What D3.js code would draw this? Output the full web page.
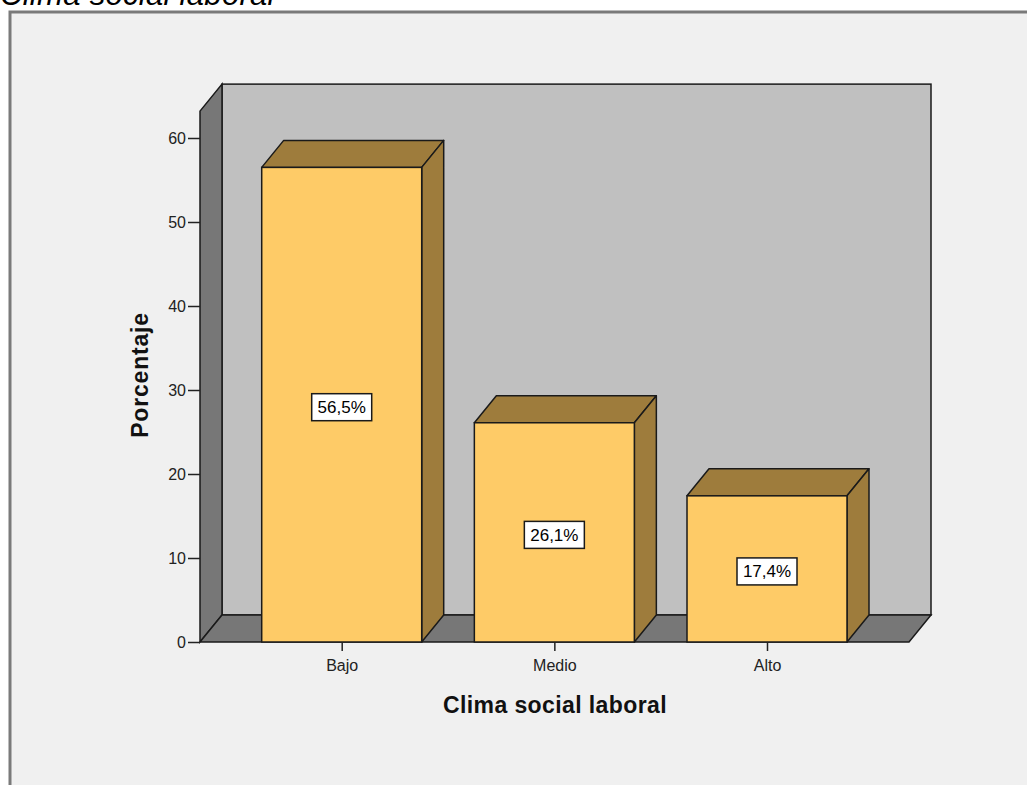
<!DOCTYPE html>
<html><head><meta charset="utf-8">
<script src="https://cdn.jsdelivr.net/npm/d3@7"></script>
<style>body{margin:0;background:#fff;}svg{display:block;font-family:Arial,"Liberation Sans",sans-serif;}</style>
</head><body>
<svg id="c" width="1027" height="785"></svg>
<script>
const categories = ["Bajo", "Medio", "Alto"];
const values = [56.5, 26.1, 17.4];
const valueLabels = ["56,5%", "26,1%", "17,4%"];
const yTicks = [0, 10, 20, 30, 40, 50, 60];

const svg = d3.select("#c");
// outer panel
svg.append("rect").attr("x", 10).attr("y", 12).attr("width", 1030).attr("height", 800)
  .attr("fill", "#f0f0f0").attr("stroke", "#7a7a7a").attr("stroke-width", 3);
svg.append("text").attr("x", 0).attr("y", 5).attr("font-style", "italic")
  .attr("font-size", 31).attr("letter-spacing", 0.3).attr("fill", "#000").text("Clima social laboral");

const y = d3.scaleLinear().domain([0, 60]).range([642, 138]);
const x = d3.scalePoint().domain(categories).range([341.7, 767]);
const dx = 22, dy = -27, bw = 160;
const yMaxFront = 63.2;
const x0 = 200, x1 = 909;

const g = svg.append("g");
const stroke = "#1a1a1a";
// back wall
g.append("rect").attr("x", x0 + dx).attr("y", y(yMaxFront) + dy).attr("width", x1 - x0)
  .attr("height", y(0) - y(yMaxFront)).attr("fill", "#c0c0c0").attr("stroke", stroke).attr("stroke-width", 1.5);
// left wall
g.append("polygon").attr("points", [[x0, y(yMaxFront)], [x0 + dx, y(yMaxFront) + dy], [x0 + dx, y(0) + dy], [x0, y(0)]].join(" "))
  .attr("fill", "#777").attr("stroke", stroke).attr("stroke-width", 1.5);
// floor
g.append("polygon").attr("points", [[x0, y(0)], [x0 + dx, y(0) + dy], [x1 + dx, y(0) + dy], [x1, y(0)]].join(" "))
  .attr("fill", "#777").attr("stroke", stroke).attr("stroke-width", 1.5);

// bars
const bars = g.selectAll("g.bar").data(categories.map((c, i) => ({c, v: values[i], l: valueLabels[i]}))).join("g");
bars.each(function(d) {
  const b = d3.select(this);
  const xl = x(d.c) - bw / 2, xr = x(d.c) + bw / 2, yt = y(d.v), yb = y(0);
  b.append("polygon").attr("points", [[xl, yt], [xl + dx, yt + dy], [xr + dx, yt + dy], [xr, yt]].join(" "))
    .attr("fill", "#9e7c3c").attr("stroke", stroke).attr("stroke-width", 1.5).attr("stroke-linejoin", "round");
  b.append("polygon").attr("points", [[xr, yt], [xr + dx, yt + dy], [xr + dx, yb + dy], [xr, yb]].join(" "))
    .attr("fill", "#9e7c3c").attr("stroke", stroke).attr("stroke-width", 1.5).attr("stroke-linejoin", "round");
  b.append("rect").attr("x", xl).attr("y", yt).attr("width", bw).attr("height", yb - yt)
    .attr("fill", "#fecb67").attr("stroke", stroke).attr("stroke-width", 1.5);
  const cy = y(d.v / 2) + 2;
  b.append("rect").attr("x", x(d.c) - 30).attr("y", cy - 13).attr("width", 60).attr("height", 27)
    .attr("fill", "#fff").attr("stroke", stroke).attr("stroke-width", 1.5);
  b.append("text").attr("x", x(d.c)).attr("y", cy + 6.5).attr("text-anchor", "middle")
    .attr("font-size", 17).attr("fill", "#000").text(d.l);
});

// y axis ticks
const yAxis = g.append("g").attr("transform", `translate(${x0},0)`)
  .call(d3.axisLeft(y).tickValues(yTicks).tickSize(12).tickPadding(2).tickFormat(d3.format("d")));
yAxis.select(".domain").remove();
yAxis.selectAll(".tick line").attr("stroke", "#222").attr("stroke-width", 1.5);
yAxis.selectAll(".tick text").attr("font-size", 16).attr("fill", "#222").attr("font-family", "Arial, 'Liberation Sans', sans-serif");

// x axis
const xAxis = g.append("g").attr("transform", `translate(0,${y(0)})`)
  .call(d3.axisBottom(x).tickSize(9).tickPadding(9));
xAxis.select(".domain").remove();
xAxis.selectAll(".tick line").attr("stroke", "#222").attr("stroke-width", 1.5);
xAxis.selectAll(".tick text").attr("font-size", 16).attr("fill", "#222").attr("font-family", "Arial, 'Liberation Sans', sans-serif");

// titles
svg.append("text").attr("x", 555).attr("y", 713).attr("text-anchor", "middle")
  .attr("font-weight", "bold").attr("font-size", 23).attr("letter-spacing", 0.4).attr("fill", "#111").text("Clima social laboral");
svg.append("text").attr("transform", "translate(148,375) rotate(-90)").attr("text-anchor", "middle")
  .attr("font-weight", "bold").attr("font-size", 23).attr("letter-spacing", 0.8).attr("fill", "#111").text("Porcentaje");
</script>
</body></html>
